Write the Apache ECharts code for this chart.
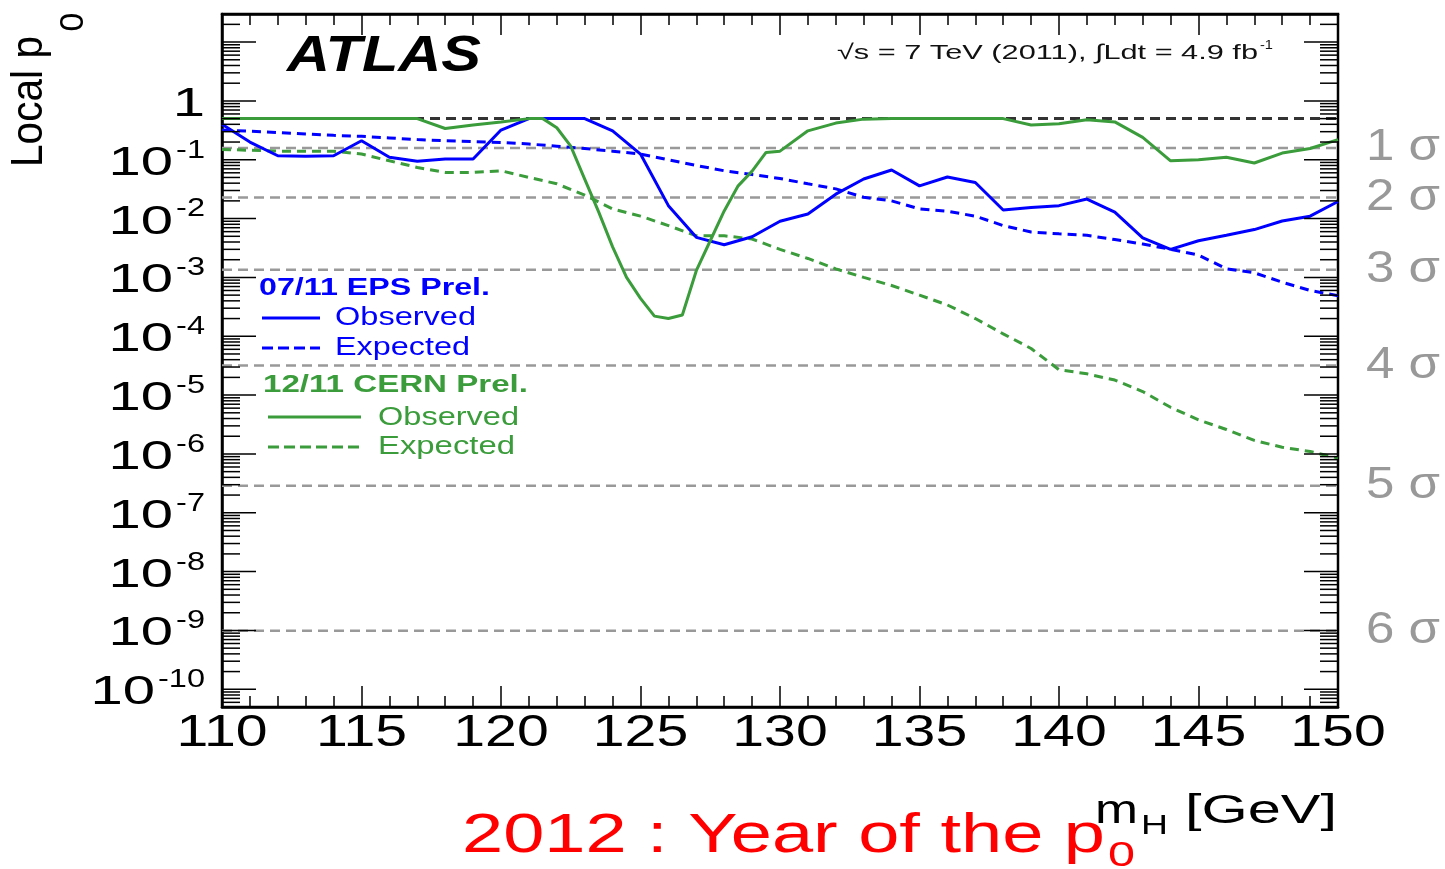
<!DOCTYPE html>
<html>
<head>
<meta charset="utf-8">
<title>Local p0 vs mH</title>
<script src="https://cdn.jsdelivr.net/npm/echarts@6/dist/echarts.min.js"></script>
<style>
  html, body { margin: 0; padding: 0; background: #fff; }
  #chart { width: 1445px; height: 869px; }
</style>
</head>
<body>
<div id="chart"></div>
<script>
// --- data ---
const massEps = [110,111,112,113,114,115,116,117,118,119,120,121,122,123,124,125,126,127,128,129,130,
  131,132,133,134,135,136,137,138,139,140,141,142,143,144,145,146,147,148,149,150];
const pEpsObs = [0.40,0.20,0.117,0.115,0.117,0.21,0.11,0.094,0.103,0.103,0.32,0.5,0.5,0.5,0.31,0.125,0.0166,0.0048,0.0036,0.0049,0.0090,
  0.012,0.026,0.047,0.067,0.036,0.051,0.041,0.014,0.0155,0.0166,0.0215,0.0129,0.0047,0.0030,0.0042,0.0052,0.0065,0.0091,0.011,0.0195];
const pEpsExp = [0.32,0.305,0.29,0.275,0.26,0.25,0.235,0.22,0.21,0.203,0.197,0.185,0.17,0.155,0.14,0.125,0.10,0.08,0.065,0.056,0.048,
  0.039,0.032,0.023,0.020,0.0146,0.0133,0.011,0.0076,0.0059,0.0055,0.0052,0.0044,0.0037,0.0030,0.0024,0.0014,0.0012,0.00083,0.0006,0.00049];

const massCernObs = [110,111,112,113,114,115,116,117,118,119,120,121,121.5,122,122.5,123,123.5,124,124.5,125,125.5,126,126.5,
  127,127.5,128,128.5,129,129.5,130,131,132,133,134,135,136,137,138,139,140,141,142,143,144,145,146,147,148,149,150];
const pCernObs = [0.5,0.5,0.5,0.5,0.5,0.5,0.5,0.5,0.34,0.39,0.44,0.5,0.5,0.35,0.17,0.047,0.013,0.0033,0.001,0.00044,0.00022,0.0002,0.00023,
  0.0013,0.0042,0.0135,0.036,0.064,0.133,0.14,0.31,0.42,0.49,0.5,0.5,0.5,0.5,0.5,0.39,0.41,0.48,0.44,0.24,0.096,0.10,0.11,0.088,0.13,0.155,0.22];

const massCernExp = massEps;
const pCernExp = [0.15,0.145,0.14,0.14,0.14,0.125,0.096,0.074,0.061,0.061,0.065,0.050,0.039,0.025,0.0146,0.011,0.0076,0.0051,0.0051,0.0045,0.0030,
  0.0021,0.0014,0.001,0.00073,0.0005,0.00034,0.0002,0.00011,0.000062,0.000027,0.000023,0.000018,0.0000115,0.0000062,0.0000038,0.0000026,
  0.0000017,0.0000013,0.0000011,0.00000085];

// one-sided significance levels, and the p0 = 0.5 line
const sigmaValues = [0.1587, 0.02275, 0.00135, 3.17e-5, 2.87e-7, 9.87e-10];
const sigmaLabels = ['1 σ', '2 σ', '3 σ', '4 σ', '5 σ', '6 σ'];
const halfLine = 0.5;

// axis ticks and labels
const X_MIN = 110, X_MAX = 150;
const Y_MIN = 5e-11, Y_MAX = 30;
const xTickValues = [110, 115, 120, 125, 130, 135, 140, 145, 150];
const yMajorTicks = [10, 1, 1e-1, 1e-2, 1e-3, 1e-4, 1e-5, 1e-6, 1e-7, 1e-8, 1e-9, 1e-10];
const yLabelValues = [1, 1e-1, 1e-2, 1e-3, 1e-4, 1e-5, 1e-6, 1e-7, 1e-8, 1e-9, 1e-10];
const yLabelMain = ['1', '10', '10', '10', '10', '10', '10', '10', '10', '10', '10'];
const yLabelSup = ['', '-1', '-2', '-3', '-4', '-5', '-6', '-7', '-8', '-9', '-10'];

const BLUE = '#0000ff';
const GREEN = '#3a9c3a';
const FONT = '"Liberation Sans", Arial, Helvetica, sans-serif';

// --- helpers ---
const measureCtx = document.createElement('canvas').getContext('2d');
function textWidth(text, size, weight, style) {
  measureCtx.font = (style || 'normal') + ' ' + (weight || 'normal') + ' ' + size + 'px ' + FONT;
  return measureCtx.measureText(text).width;
}
const pairs = (xs, ys) => xs.map((x, i) => [x, ys[i]]);

function textStyle(text, size, color, opts) {
  opts = opts || {};
  return {
    text: text, fill: color, fontSize: size, fontFamily: FONT,
    fontWeight: opts.weight || 'normal', fontStyle: opts.style || 'normal',
    textAlign: opts.align || 'left', align: opts.align || 'left',
    textVerticalAlign: 'middle', verticalAlign: 'middle'
  };
}
// text stretched to a given width (the reference is drawn wide)
function label(text, x, y, size, color, width, opts) {
  opts = opts || {};
  const natural = textWidth(text, size, opts.weight, opts.style);
  return {
    type: 'text', x: x, y: y, silent: true,
    rotation: opts.rotation || 0,
    scaleX: width ? width / natural : 1,
    scaleY: opts.scaleY || 1,
    style: textStyle(text, size, color, opts)
  };
}
function legendLine(x1, x2, y, color, dash) {
  return {
    type: 'line', silent: true,
    shape: { x1: x1, y1: y, x2: x2, y2: y },
    style: { stroke: color, lineWidth: 3, lineDash: dash || null }
  };
}

// minor log ticks 2..9 x 10^n
const yMinorTicks = [];
for (let e = -11; e <= 1; e++) {
  for (let m = 2; m <= 9; m++) {
    const v = m * Math.pow(10, e);
    if (v > Y_MIN * 1.001 && v < Y_MAX * 0.999) yMinorTicks.push(v);
  }
}
const yTickData = yMajorTicks.map(v => [X_MIN, v, 1]).concat(yMinorTicks.map(v => [X_MIN, v, 0]));

function renderYTick(params, api) {
  const cs = params.coordSys;
  const y = api.coord([X_MIN, api.value(1)])[1];
  const len = api.value(2) === 1 ? 34 : 18;
  const st = { stroke: '#000', lineWidth: 1.5 };
  return {
    type: 'group',
    children: [
      { type: 'line', shape: { x1: cs.x, y1: y, x2: cs.x + len, y2: y }, style: st },
      { type: 'line', shape: { x1: cs.x + cs.width, y1: y, x2: cs.x + cs.width - len, y2: y }, style: st }
    ]
  };
}

// dashed reference levels across the whole plot
function renderLevel(params, api) {
  const cs = params.coordSys;
  const y = api.coord([X_MIN, api.value(1)])[1];
  const half = api.value(2) === 1;
  return {
    type: 'line',
    shape: { x1: cs.x, y1: y, x2: cs.x + cs.width, y2: y },
    style: { stroke: half ? '#333' : '#999', lineWidth: half ? 3 : 2.5, lineDash: [10, 6] }
  };
}

const Y_MAIN_SIZE = 40, Y_MAIN_SCALE = 1.45;
const Y_SUP_SIZE = 25, Y_SUP_SCALE = 1.3;
function renderYLabel(params, api) {
  const i = params.dataIndex;
  const y = api.coord([X_MIN, yLabelValues[i]])[1];
  const right = params.coordSys.x - 17;
  const children = [];
  let mainRight = right;
  if (yLabelSup[i]) {
    children.push({
      type: 'text', x: right, y: y - 9, scaleX: Y_SUP_SCALE,
      style: textStyle(yLabelSup[i], Y_SUP_SIZE, '#000', { align: 'right' })
    });
    mainRight = right - textWidth(yLabelSup[i], Y_SUP_SIZE) * Y_SUP_SCALE - 3;
  }
  children.push({
    type: 'text', x: mainRight, y: y + 4, scaleX: Y_MAIN_SCALE,
    style: textStyle(yLabelMain[i], Y_MAIN_SIZE, '#000', { align: 'right' })
  });
  return { type: 'group', children: children };
}

function renderXLabel(params, api) {
  const p = api.coord([api.value(0), Y_MIN]);
  return {
    type: 'text', x: p[0], y: p[1] + 27, scaleX: 1.3,
    style: textStyle(String(xTickValues[params.dataIndex]), 44, '#000', { align: 'center' })
  };
}

function renderSigmaLabel(params, api) {
  const p = api.coord([X_MAX, sigmaValues[params.dataIndex]]);
  const text = sigmaLabels[params.dataIndex];
  return {
    type: 'text', x: p[0] + 28, y: p[1], scaleX: 74 / textWidth(text, 44),
    style: textStyle(text, 44, '#999', { align: 'left' })
  };
}

const chart = echarts.init(document.getElementById('chart'), null, { renderer: 'canvas' });

const tickAxis = {
  type: 'value', min: X_MIN, max: X_MAX, interval: 5,
  axisLine: { show: true, lineStyle: { color: '#000', width: 2.5 } },
  axisTick: { show: true, inside: true, length: 21, lineStyle: { color: '#000', width: 1.5 } },
  minorTick: { show: true, splitNumber: 5, length: 11, lineStyle: { color: '#000', width: 1.5 } },
  axisLabel: { show: false },
  splitLine: { show: false }
};

const option = {
  animation: false,
  backgroundColor: '#fff',
  grid: {
    left: 222, right: 107, top: 14, bottom: 162,
    show: true, borderColor: '#000', borderWidth: 2.5, backgroundColor: 'transparent',
    containLabel: false, outerBoundsMode: 'none'
  },
  xAxis: [
    Object.assign({}, tickAxis, { position: 'bottom' }),
    Object.assign({}, tickAxis, { position: 'top' })
  ],
  yAxis: {
    type: 'log', logBase: 10, min: Y_MIN, max: Y_MAX,
    axisLine: { show: true, lineStyle: { color: '#000', width: 2.5 } },
    axisTick: { show: false },
    axisLabel: { show: false },
    splitLine: { show: false }
  },
  graphic: [
    label('ATLAS', 287, 57, 50, '#000', 194, { weight: 'bold', style: 'italic' }),
    label('√s = 7 TeV (2011), ∫Ldt = 4.9 fb', 837, 53, 21, '#111', 421),
    label('-1', 1260, 45, 13, '#111', 13),

    label('07/11 EPS Prel.', 259, 288, 24, BLUE, 231, { weight: 'bold' }),
    legendLine(262, 320, 318, BLUE),
    label('Observed', 335, 318, 25, BLUE, 141),
    legendLine(262, 320, 348, BLUE, [11, 5]),
    label('Expected', 335, 348, 25, BLUE, 135),

    label('12/11 CERN Prel.', 263, 385, 24, GREEN, 265, { weight: 'bold' }),
    legendLine(268, 361, 417, GREEN),
    label('Observed', 378, 418, 25, GREEN, 141),
    legendLine(268, 361, 447, GREEN, [11, 5]),
    label('Expected', 378, 447, 25, GREEN, 137),

    label('Local p', 30, 167, 42, '#000', 131, { rotation: Math.PI / 2, scaleY: 1.05 }),
    label('0', 74, 22, 34, '#000', 0, { rotation: Math.PI / 2, align: 'center' }),

    label('m', 1095, 812, 40, '#000', 43),
    label('H', 1141, 826, 28, '#000', 27),
    label('[GeV]', 1185, 812, 40, '#000', 152),

    label('2012 : Year of the p', 462, 837, 56, '#ff0000', 643),
    label('0', 1108, 856, 35, '#ff0000', 27)
  ],
  series: [
    {
      type: 'custom', z: 1, silent: true, clip: false,
      data: sigmaValues.map(v => [X_MIN, v, 0]).concat([[X_MIN, halfLine, 1]]), encode: { x: 0, y: 1 },
      renderItem: renderLevel
    },
    {
      name: 'EPS Observed', type: 'line', z: 4, symbol: 'none', showSymbol: false,
      data: pairs(massEps, pEpsObs),
      lineStyle: { color: BLUE, width: 3 }
    },
    {
      name: 'EPS Expected', type: 'line', z: 3, symbol: 'none', showSymbol: false,
      data: pairs(massEps, pEpsExp),
      lineStyle: { color: BLUE, width: 3, type: [9, 6] }
    },
    {
      name: 'CERN Observed', type: 'line', z: 4, symbol: 'none', showSymbol: false,
      data: pairs(massCernObs, pCernObs),
      lineStyle: { color: GREEN, width: 3 }
    },
    {
      name: 'CERN Expected', type: 'line', z: 3, symbol: 'none', showSymbol: false,
      data: pairs(massCernExp, pCernExp),
      lineStyle: { color: GREEN, width: 3, type: [9, 6] }
    },
    {
      type: 'custom', z: 6, silent: true, clip: false,
      data: yTickData, encode: { x: 0, y: 1 },
      renderItem: renderYTick
    },
    {
      type: 'custom', z: 6, silent: true, clip: false,
      data: yLabelValues.map(v => [X_MIN, v]), encode: { x: 0, y: 1 },
      renderItem: renderYLabel
    },
    {
      type: 'custom', z: 6, silent: true, clip: false,
      data: xTickValues.map(v => [v, Y_MIN]), encode: { x: 0, y: 1 },
      renderItem: renderXLabel
    },
    {
      type: 'custom', z: 6, silent: true, clip: false,
      data: sigmaValues.map(v => [X_MAX, v]), encode: { x: 0, y: 1 },
      renderItem: renderSigmaLabel
    }
  ]
};

chart.setOption(option);
</script>
</body>
</html>
